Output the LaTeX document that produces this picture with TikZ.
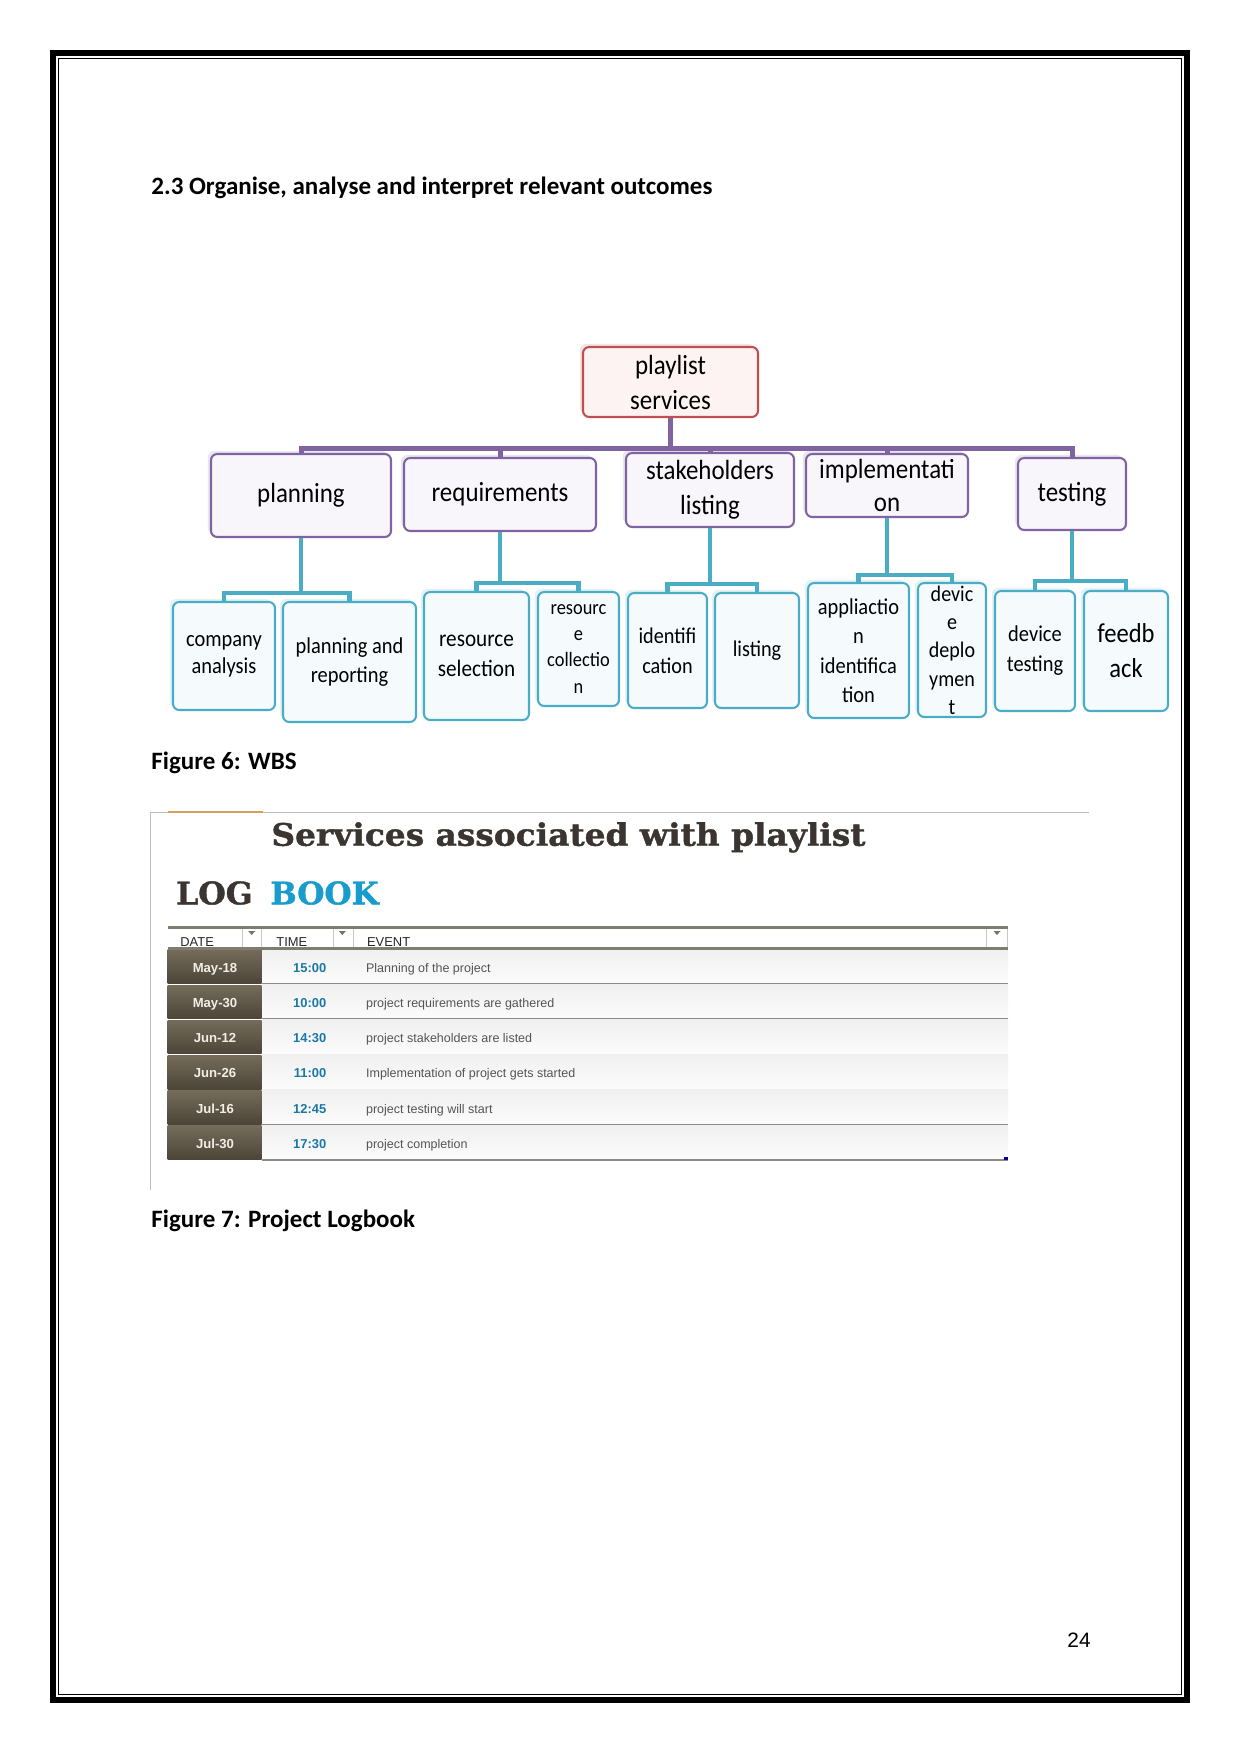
\documentclass[tikz,border=0pt]{standalone}
\usepackage{fontspec}
\setmainfont{Carlito}
\newfontfamily\wbsfont[FakeStretch=0.9]{Carlito}
\newfontfamily\libsans{Liberation Sans}
\newfontfamily\slabfont[BoldFeatures={FakeBold=1.2}]{DejaVu Serif}
\usetikzlibrary{shadows}
\newlength\pu
\setlength\pu{0.48pt}
\newcommand\wfs[2]{\wbsfont\fontsize{#1}{#2}\selectfont}
\newcommand\pfs[2]{\fontsize{#1}{#2}\selectfont}
\definecolor{rootred}{RGB}{192,80,77}
\definecolor{rootfill}{RGB}{253,243,243}
\definecolor{purp}{RGB}{128,100,162}
\definecolor{onefill}{RGB}{248,246,251}
\definecolor{tealc}{RGB}{75,172,198}
\definecolor{twofill}{RGB}{245,251,253}
\definecolor{titlec}{RGB}{58,53,48}
\definecolor{bookblue}{RGB}{24,155,205}
\definecolor{framegray}{RGB}{190,190,190}
\definecolor{tanline}{RGB}{214,160,90}
\definecolor{hdrline}{RGB}{125,125,112}
\definecolor{rowtop}{RGB}{240,240,240}
\definecolor{rowbot}{RGB}{252,252,252}
\definecolor{datetop}{RGB}{116,107,90}
\definecolor{datebot}{RGB}{76,69,56}
\definecolor{datetext}{RGB}{242,238,230}
\definecolor{timeblue}{RGB}{26,120,165}
\definecolor{evgray}{RGB}{85,85,85}
\definecolor{sepgray}{RGB}{140,140,135}
\tikzset{
  sz/.style 2 args={minimum width={#1*0.48pt}, minimum height={#2*0.48pt}},
  rootbox/.style={draw=rootred, line width=1pt, rounded corners=3pt, fill=rootfill,
    inner sep=0pt, align=center, font=\wfs{13.3}{16.8},
    drop shadow={shadow xshift=-1.5pt, shadow yshift=1.5pt, fill=rootred!25, opacity=0.6}},
  onebox/.style={draw=purp, line width=1pt, rounded corners=3pt, fill=onefill,
    inner sep=0pt, align=center, font=\wfs{13.3}{16.8},
    drop shadow={shadow xshift=-1.5pt, shadow yshift=1.5pt, fill=purp!25, opacity=0.6}},
  twobox/.style={draw=tealc, line width=1pt, rounded corners=3pt, fill=twofill,
    inner sep=0pt, align=center, font=\wfs{10.9}{13.6},
    drop shadow={shadow xshift=-1.5pt, shadow yshift=1.5pt, fill=tealc!25, opacity=0.6}},
  purpline/.style={draw=purp, line width=2.4pt},
  tealline/.style={draw=tealc, line width=2pt},
  capt/.style={anchor=base west, inner sep=0pt, font=\bfseries\pfs{12}{14}},
  hdrtext/.style={anchor=base west, inner sep=0pt, text=black!85, font=\libsans\pfs{6.2}{7}},
  datetxt/.style={anchor=base, inner sep=0pt, text=datetext, font=\libsans\bfseries\pfs{6.3}{7}},
  timetxt/.style={anchor=base east, inner sep=0pt, text=timeblue, font=\libsans\bfseries\pfs{6.2}{7}},
  evtxt/.style={anchor=base west, inner sep=0pt, text=evgray, font=\libsans\pfs{6}{7}},
  hdrsep/.style={draw=black!22, line width=0.5pt},
}
\begin{document}
\begin{tikzpicture}[x=0.48pt,y=-0.48pt]
\useasboundingbox (0,0) rectangle (1241,1754);
\fill[white] (0,0) rectangle (1241,1754);
% page border
\draw[line width=2.9pt] (53,53) rectangle (1187,1700);
\draw[line width=0.6pt] (58.5,58.5) rectangle (1181.5,1694.5);

% heading
\node[capt] (head) at (151,194.3) {2.3 Organise, analyse and interpret relevant outcomes};

% ---------- WBS ----------
\node[rootbox, sz={175}{70}] (root) at (670.5,382) {playlist\\services};

\node[onebox, sz={180}{83}] (plan) at (301,495.5) {planning};
\node[onebox, sz={192}{73}] (req) at (500,494.5) {requirements};
\node[onebox, sz={168}{74}] (stake) at (710,490) {stakeholders\\listing};
\node[onebox, sz={162}{63}, font=\wfs{13.3}{15.8}] (impl) at (887,485.5) {implementati\\on};
\node[onebox, sz={108}{72}] (test) at (1072,494) {testing};

\node[twobox, sz={102}{108}, font=\wfs{10.9}{13}] (comp) at (224,656) {company\\analysis};
\node[twobox, sz={133}{120}, font=\wfs{10.9}{13.8}] (planrep) at (349.5,662) {planning and\\reporting};
\node[twobox, sz={105}{128}, font=\wfs{11.3}{14.4}] (ressel) at (476.5,656) {resource\\selection};
\node[twobox, sz={81}{114}, font=\wfs{9.8}{12.5}] (rescol) at (578.5,649) {resourc\\e\\collectio\\n};
\node[twobox, sz={79}{115}, font=\wfs{10.8}{14.4}] (ident) at (667.5,650.5) {identifi\\cation};
\node[twobox, sz={84}{115}, font=\wfs{10.8}{14.4}] (list) at (757,650.5) {listing};
\node[twobox, sz={101}{135}, font=\wfs{10.9}{14.1}] (appid) at (858.5,650.5) {appliactio\\n\\identifica\\tion};
\node[twobox, sz={68}{134}, font=\wfs{10.7}{13.6}] (devdep) at (952,650) {devic\\e\\deplo\\ymen\\t};
\node[twobox, sz={80}{120}, font=\wfs{10.9}{14.4}] (devtest) at (1035,651) {device\\testing};
\node[twobox, sz={84}{120}, font=\wfs{13.1}{16.8}] (feed) at (1126,651) {feedb\\ack};

\foreach \c in {plan,req,stake,impl,test}
  \draw[purpline] (root.south) -- ++(0,30) -| (\c.north);

\draw[tealline] (plan.south) -- ++(0,55) -| (comp.north);
\draw[tealline] (plan.south) -- ++(0,55) -| (planrep.north);
\draw[tealline] (req.south) -- ++(0,51) -| (ressel.north);
\draw[tealline] (req.south) -- ++(0,51) -| (rescol.north);
\draw[tealline] (stake.south) -- ++(0,56) -| (ident.north);
\draw[tealline] (stake.south) -- ++(0,56) -| (list.north);
\draw[tealline] (impl.south) -- ++(0,57) -| (appid.north);
\draw[tealline] (impl.south) -- ++(0,57) -| (devdep.north);
\draw[tealline] (test.south) -- ++(0,50) -| (devtest.north);
\draw[tealline] (test.south) -- ++(0,50) -| (feed.north);

\node[capt] (cap6) at (151,769.3) {Figure 6: WBS};

% ---------- Log book ----------
\draw[framegray, line width=0.6pt] (150.7,1190) -- (150.7,812.3) -- (1089,812.3);
\draw[tanline, line width=0.8pt] (167.7,812.3) -- (263.3,812.3);

\node[anchor=base west, inner sep=0pt, text=titlec] (ltitle) at (271,845.7)
  {\resizebox{594\pu}{23.5\pu}{\slabfont\bfseries Services associated with playlist}};
\node[anchor=base west, inner sep=0pt, text=titlec] (llog) at (175.7,904.3)
  {\resizebox{76.6\pu}{23\pu}{\slabfont\bfseries LOG}};
\node[anchor=base west, inner sep=0pt, text=bookblue] (lbook) at (270,904.3)
  {\resizebox{108.3\pu}{23\pu}{\slabfont\bfseries BOOK}};

% rows
\foreach \dt/\tm/\ev [count=\i from 0] in {
  May-18/15:00/Planning of the project,
  May-30/10:00/project requirements are gathered,
  Jun-12/14:30/project stakeholders are listed,
  Jun-26/11:00/Implementation of project gets started,
  Jul-16/12:45/project testing will start,
  Jul-30/17:30/project completion}{
  \pgfmathsetmacro\rowtp{949+35.2*\i}
  \pgfmathsetmacro\rowbt{\rowtp+35.2}
  \pgfmathsetmacro\rowbl{\rowtp+23.3}
  \shade[top color=rowtop, bottom color=rowbot] (262,\rowtp) rectangle (1008,\rowbt);
  \shade[top color=datetop, bottom color=datebot] (167.7,\rowtp+0.8) rectangle (261.7,\rowbt-0.8);
  \draw[sepgray, line width=1pt] (262,\rowbt) -- (1008,\rowbt);
  \node[datetxt] (date\i) at (215,\rowbl) {\dt};
  \node[timetxt] (time\i) at (326.7,\rowbl) {\tm};
  \node[evtxt] (ev\i) at (365.7,\rowbl) {\ev};
}

% header
\fill[white] (167.7,927.3) rectangle (1008,948.6);
\foreach \xx in {242.3,261.7,333.3,353.3,986.7,1007.7}
  \draw[hdrsep] (\xx,928) -- (\xx,948);
\foreach \xx in {251.7,342.3,997}
  \fill[black!55] (\xx-3.5,931) -- (\xx+3.5,931) -- (\xx,935) -- cycle;
\draw[hdrline, line width=1.2pt] (167.7,927.3) -- (1008,927.3);
\draw[hdrline, line width=1.1pt] (167.7,948.6) -- (1008,948.6);
\node[hdrtext] (hdate) at (180,946) {DATE};
\node[hdrtext] (htime) at (276,946) {TIME};
\node[hdrtext] (hevent) at (366.7,946) {EVENT};
\fill[blue!60!black] (1004,1156.5) rectangle (1007.5,1160);

\node[capt] (cap7) at (151,1227.3) {Figure 7: Project Logbook};

% page number
\node[anchor=base, inner sep=0pt, font=\libsans\pfs{10}{12}] (pgnum) at (1079,1647) {24};
\end{tikzpicture}
\end{document}
